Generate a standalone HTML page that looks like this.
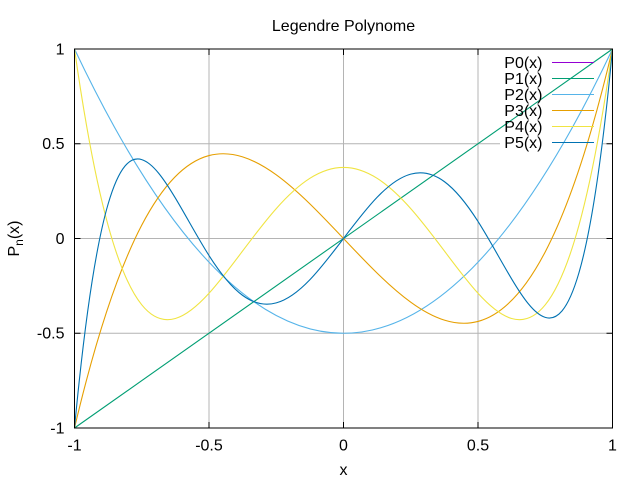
<!DOCTYPE html>
<html><head><meta charset="utf-8"><style>
html,body{margin:0;padding:0;background:#fff;}
svg{display:block;}
text{font-family:"Liberation Sans",Arial,sans-serif;font-size:16px;fill:#000;}
</style></head><body>
<svg width="640" height="480" viewBox="0 0 640 480" xmlns="http://www.w3.org/2000/svg">
<rect x="0" y="0" width="640" height="480" fill="#fff"/>
<!-- grid -->
<g stroke="#b4b4b4" stroke-width="1" fill="none">
<line x1="209" y1="49" x2="209" y2="428"/>
<line x1="343.5" y1="49" x2="343.5" y2="428"/>
<line x1="478" y1="49" x2="478" y2="428"/>
<line x1="74.5" y1="143.75" x2="612.5" y2="143.75"/>
<line x1="74.5" y1="238.5" x2="612.5" y2="238.5"/>
<line x1="74.5" y1="333.25" x2="612.5" y2="333.25"/>
</g>
<!-- key background -->
<rect x="500" y="54" width="102" height="97" fill="#fff"/>
<!-- curves -->
<g fill="none" stroke-width="1.1">
<line x1="74.5" y1="49" x2="612.5" y2="49" stroke="#9400d3"/>
<line x1="74.5" y1="428" x2="612.5" y2="49" stroke="#009e73"/>
<path d="M74.5,49 Q343.5,617.5 612.5,49" stroke="#56b4e9"/>
<path d="M74.5,428 C253.83,-330 433.17,807 612.5,49" stroke="#e69f00"/>
<g stroke="#f0e442">
<path d="M343.5,167.44 C354.71,167.44 365.92,171.21 377.13,178.34 C388.33,185.47 399.54,195.96 410.75,208.61 C421.96,221.26 433.17,236.05 444.38,250.97 C455.58,265.89 466.79,280.94 478,293.28 C489.21,305.62 500.42,315.24 511.63,318.52 C522.83,321.80 534.04,318.72 545.25,304.84 C556.46,290.96 567.67,266.28 578.88,225.53 C590.08,184.78 601.29,127.96 612.5,49"/>
<path transform="translate(687,0) scale(-1,1)" d="M343.5,167.44 C354.71,167.44 365.92,171.21 377.13,178.34 C388.33,185.47 399.54,195.96 410.75,208.61 C421.96,221.26 433.17,236.05 444.38,250.97 C455.58,265.89 466.79,280.94 478,293.28 C489.21,305.62 500.42,315.24 511.63,318.52 C522.83,321.80 534.04,318.72 545.25,304.84 C556.46,290.96 567.67,266.28 578.88,225.53 C590.08,184.78 601.29,127.96 612.5,49"/>
</g>
<g stroke="#0072b2">
<path d="M343.5,238.5 C354.71,223.70 365.92,208.92 377.13,197.28 C388.33,185.64 399.54,177.19 410.75,174.12 C421.96,171.06 433.17,173.44 444.38,181.63 C455.58,189.82 466.79,203.89 478,221.47 C489.21,239.05 500.42,260.21 511.63,278.93 C522.83,297.65 534.04,313.99 545.25,317.40 C556.46,320.81 567.67,311.36 578.88,273.00 C590.08,234.64 601.29,167.44 612.5,49"/>
<path transform="rotate(180 343.5 238.5)" d="M343.5,238.5 C354.71,223.70 365.92,208.92 377.13,197.28 C388.33,185.64 399.54,177.19 410.75,174.12 C421.96,171.06 433.17,173.44 444.38,181.63 C455.58,189.82 466.79,203.89 478,221.47 C489.21,239.05 500.42,260.21 511.63,278.93 C522.83,297.65 534.04,313.99 545.25,317.40 C556.46,320.81 567.67,311.36 578.88,273.00 C590.08,234.64 601.29,167.44 612.5,49"/>
</g>
</g>
<!-- key -->
<g stroke-width="1.1">
<line x1="552" y1="62.5" x2="594" y2="62.5" stroke="#9400d3"/>
<line x1="552" y1="78.5" x2="594" y2="78.5" stroke="#009e73"/>
<line x1="552" y1="94.5" x2="594" y2="94.5" stroke="#56b4e9"/>
<line x1="552" y1="110.5" x2="594" y2="110.5" stroke="#e69f00"/>
<line x1="552" y1="126.5" x2="594" y2="126.5" stroke="#f0e442"/>
<line x1="552" y1="142.5" x2="594" y2="142.5" stroke="#0072b2"/>
</g>
<g text-anchor="end">
<text x="542.5" y="68">P0(x)</text>
<text x="542.5" y="84">P1(x)</text>
<text x="542.5" y="100">P2(x)</text>
<text x="542.5" y="116">P3(x)</text>
<text x="542.5" y="132">P4(x)</text>
<text x="542.5" y="148">P5(x)</text>
</g>
<!-- border and ticks -->
<g stroke="#000" stroke-width="1" fill="none">
<rect x="74.5" y="49" width="538" height="379"/>
<line x1="74.5" y1="143.75" x2="80.5" y2="143.75"/>
<line x1="74.5" y1="238.5" x2="80.5" y2="238.5"/>
<line x1="74.5" y1="333.25" x2="80.5" y2="333.25"/>
<line x1="606.5" y1="143.75" x2="612.5" y2="143.75"/>
<line x1="606.5" y1="238.5" x2="612.5" y2="238.5"/>
<line x1="606.5" y1="333.25" x2="612.5" y2="333.25"/>
<line x1="209" y1="428" x2="209" y2="422"/>
<line x1="343.5" y1="428" x2="343.5" y2="422"/>
<line x1="478" y1="428" x2="478" y2="422"/>
<line x1="209" y1="49" x2="209" y2="55"/>
<line x1="343.5" y1="49" x2="343.5" y2="55"/>
<line x1="478" y1="49" x2="478" y2="55"/>
</g>
<!-- tick labels -->
<g text-anchor="end">
<text x="64.5" y="54.5">1</text>
<text x="64.5" y="149">0.5</text>
<text x="64.5" y="244">0</text>
<text x="64.5" y="338.5">-0.5</text>
<text x="64.5" y="433.5">-1</text>
</g>
<g text-anchor="middle">
<text x="74.5" y="450.5">-1</text>
<text x="209" y="450.5">-0.5</text>
<text x="343.5" y="450.5">0</text>
<text x="478" y="450.5">0.5</text>
<text x="612.5" y="450.5">1</text>
<text x="343.5" y="475">x</text>
<text x="343.5" y="31">Legendre Polynome</text>
<text transform="translate(19,238.5) rotate(-90)">P<tspan dy="4" font-size="12">n</tspan><tspan dy="-4">(x)</tspan></text>
</g>
</svg>
</body></html>
